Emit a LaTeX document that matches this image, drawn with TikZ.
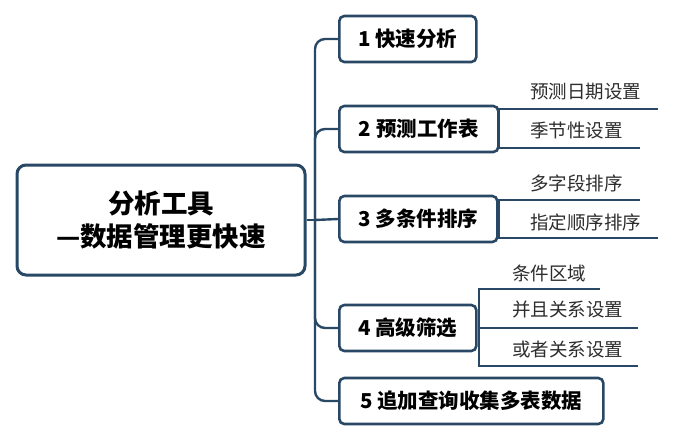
\documentclass[tikz,border=0pt]{standalone}
\usepackage{fontspec}
\usetikzlibrary{backgrounds}
\setmainfont{Noto Sans CJK SC}
\definecolor{edge}{RGB}{40,72,102}
\definecolor{subtxt}{RGB}{45,45,45}
\tikzset{
  conn/.style={draw=edge, line width=2.4pt},
  topic/.style={draw=edge, line width=2.6pt, rounded corners=5pt, fill=white,
    minimum height=46pt, inner sep=0pt, anchor=west,
    font=\fontsize{20.5}{24}\selectfont\bfseries, text=black},
  maintopic/.style={draw=edge, line width=3pt, rounded corners=9pt, fill=white,
    minimum width=288pt, minimum height=110pt, inner sep=0pt, align=center,
    font=\fontsize{26.5}{33}\selectfont\bfseries, text=black},
  subtopic/.style={anchor=west, inner sep=0pt, text=subtxt,
    font=\fontsize{18.5}{22}\selectfont},
}
\begin{document}
\begin{tikzpicture}[x=1pt,y=-1pt]
\useasboundingbox (0,0) rectangle (676,441);
% main topic
\node[maintopic] (main) at (161,220) {分析工具\\—数据管理更快速};
% topics
\node[topic, minimum width=137pt] (b1) at (338,39) {1 快速分析};
\node[topic, minimum width=159pt] (b2) at (338,129) {2 预测工作表};
\node[topic, minimum width=158pt] (b3) at (338,219) {3 多条件排序};
\node[topic, minimum width=137pt] (b4) at (338,328) {4 高级筛选};
\node[topic, minimum width=264pt] (b5) at (338,401) {5 追加查询收集多表数据};
% subtopics
\node[subtopic] (s21) at (530,92) {预测日期设置};
\node[subtopic] (s22) at (530,130) {季节性设置};
\node[subtopic] (s31) at (530,183) {多字段排序};
\node[subtopic] (s32) at (530,222) {指定顺序排序};
\node[subtopic] (s41) at (512,273) {条件区域};
\node[subtopic] (s42) at (512,310) {并且关系设置};
\node[subtopic] (s43) at (512,349) {或者关系设置};
\begin{scope}[on background layer]
\fill[white] (0,0) rectangle (676,441);
% trunk
\coordinate (j) at (315,220);
\draw[conn] (main.east) -- (j);
\draw[conn, rounded corners=10pt] (j) |- (b1.west);
\draw[conn, rounded corners=10pt] (j) |- (b2.west);
\draw[conn] (j) -- (b3.west);
\draw[conn, rounded corners=10pt] (j) |- (b4.west);
\draw[conn, rounded corners=10pt] (j) |- (b5.west);
% sub-branches of 2
\coordinate (k2) at (499,129);
\coordinate (e21) at (658,109);
\coordinate (e22) at (640,148);
\draw[conn] (b2.east) -- (k2);
\draw[conn] (e21) -| (k2) |- (e22);
% sub-branches of 3
\coordinate (k3) at (499,219);
\coordinate (e31) at (640,200);
\coordinate (e32) at (658,238);
\draw[conn] (b3.east) -- (k3);
\draw[conn] (e31) -| (k3) |- (e32);
% sub-branches of 4
\coordinate (k4) at (479,328);
\coordinate (e41) at (600,289);
\coordinate (e42) at (638,328);
\coordinate (e43) at (638,366);
\draw[conn] (b4.east) -- (e42);
\draw[conn] (e41) -| (k4) |- (e43);
\end{scope}
\end{tikzpicture}
\end{document}
